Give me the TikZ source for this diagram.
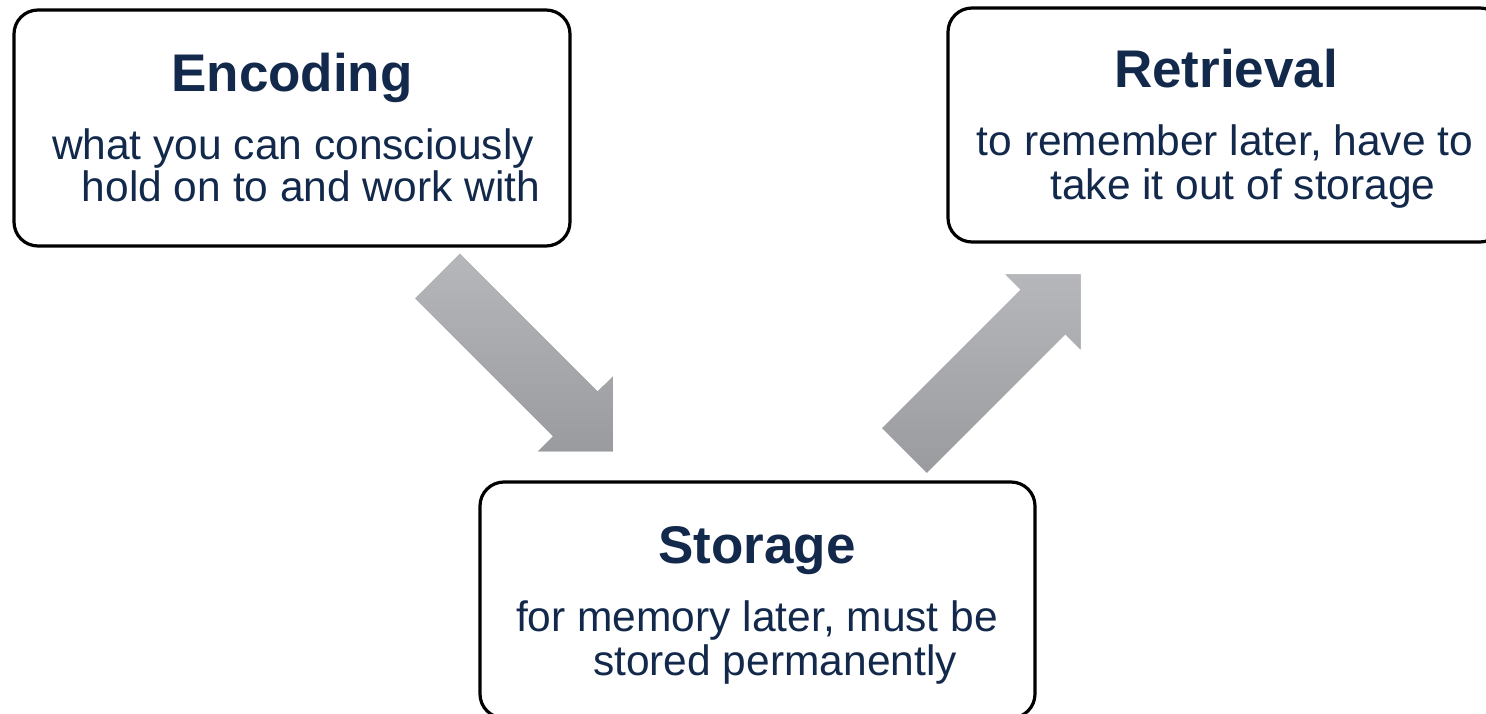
\documentclass[tikz,border=0pt]{standalone}
\usepackage{fontspec}
\setmainfont{Liberation Sans}
\definecolor{navy}{HTML}{13294B}
\definecolor{arrtop}{HTML}{B6B7BB}
\definecolor{arrbot}{HTML}{9A9B9F}
\tikzset{
  box/.style={draw=black, line width=3.2pt, rounded corners=24pt, fill=white, inner sep=0pt},
  ttl/.style={anchor=base, text=navy, inner sep=0pt, font=\fontsize{53}{53}\selectfont\bfseries},
  body/.style={anchor=base, text=navy, inner sep=0pt, font=\fontsize{42.5}{42.5}\selectfont},
  blockarrow/.style={top color=arrtop, bottom color=arrbot, draw=none},
  shadowlayer/.style={fill=black, fill opacity=0.07, draw=none}
}
\begin{document}
\begin{tikzpicture}[x=1pt, y=-1pt]
\clip (0,0) rectangle (1486,714);
\fill[white] (0,0) rectangle (1486,714);

% boxes
\node[box, minimum width=556pt, minimum height=236pt] (enc) at (292,128) {};
\node[box, minimum width=556pt, minimum height=234pt] (ret) at (1226,125) {};
\node[box, minimum width=555pt, minimum height=236pt] (sto) at (757.5,600) {};

% texts
\node[ttl]  (encT)  at (292,92) {Encoding};
\node[body] (encL1) at (293,160) {what you can consciously};
\node[body] (encL2) at (311,202) {hold on to and work with};

\node[ttl]  (retT)  at (1226,88) {Retrieval};
\node[body] (retL1) at (1225,156) {to remember later, have to};
\node[body] (retL2) at (1243,200) {take it out of storage};

\node[ttl]  (stoT)  at (757,563) {Storage};
\node[body] (stoL1) at (757,631) {for memory later, must be};
\node[body] (stoL2) at (775,675) {stored permanently};

% arrow 1 (Encoding -> Storage)
\coordinate (a1) at (459.8,253.7);
\coordinate (a2) at (597.6,391.6);
\coordinate (a3) at (612.9,376.4);
\coordinate (a4) at (612.9,451.4);
\coordinate (a5) at (537.9,451.4);
\coordinate (a6) at (553.1,436.2);
\coordinate (a7) at (415.2,298.3);
% arrow 2 (Storage -> Retrieval)
\coordinate (b1) at (926.8,472.8);
\coordinate (b2) at (1065.4,334.2);
\coordinate (b3) at (1080.6,349.4);
\coordinate (b4) at (1080.6,274.4);
\coordinate (b5) at (1005.6,274.4);
\coordinate (b6) at (1020.8,289.6);
\coordinate (b7) at (882.2,428.2);

% soft shadows (lower left)
\foreach \s/\t in {-1/1, -2/2.5, -3/4, -4/5.5, -5/7}{
  \fill[shadowlayer, xshift=\s pt, yshift=-\t pt]
    (a1) -- (a2) -- (a3) -- (a4) -- (a5) -- (a6) -- (a7) -- cycle;
  \fill[shadowlayer, xshift=\s pt, yshift=-\t pt]
    (b1) -- (b2) -- (b3) -- (b4) -- (b5) -- (b6) -- (b7) -- cycle;
}

\path[blockarrow] (a1) -- (a2) -- (a3) -- (a4) -- (a5) -- (a6) -- (a7) -- cycle;
\path[blockarrow] (b1) -- (b2) -- (b3) -- (b4) -- (b5) -- (b6) -- (b7) -- cycle;
\end{tikzpicture}
\end{document}
